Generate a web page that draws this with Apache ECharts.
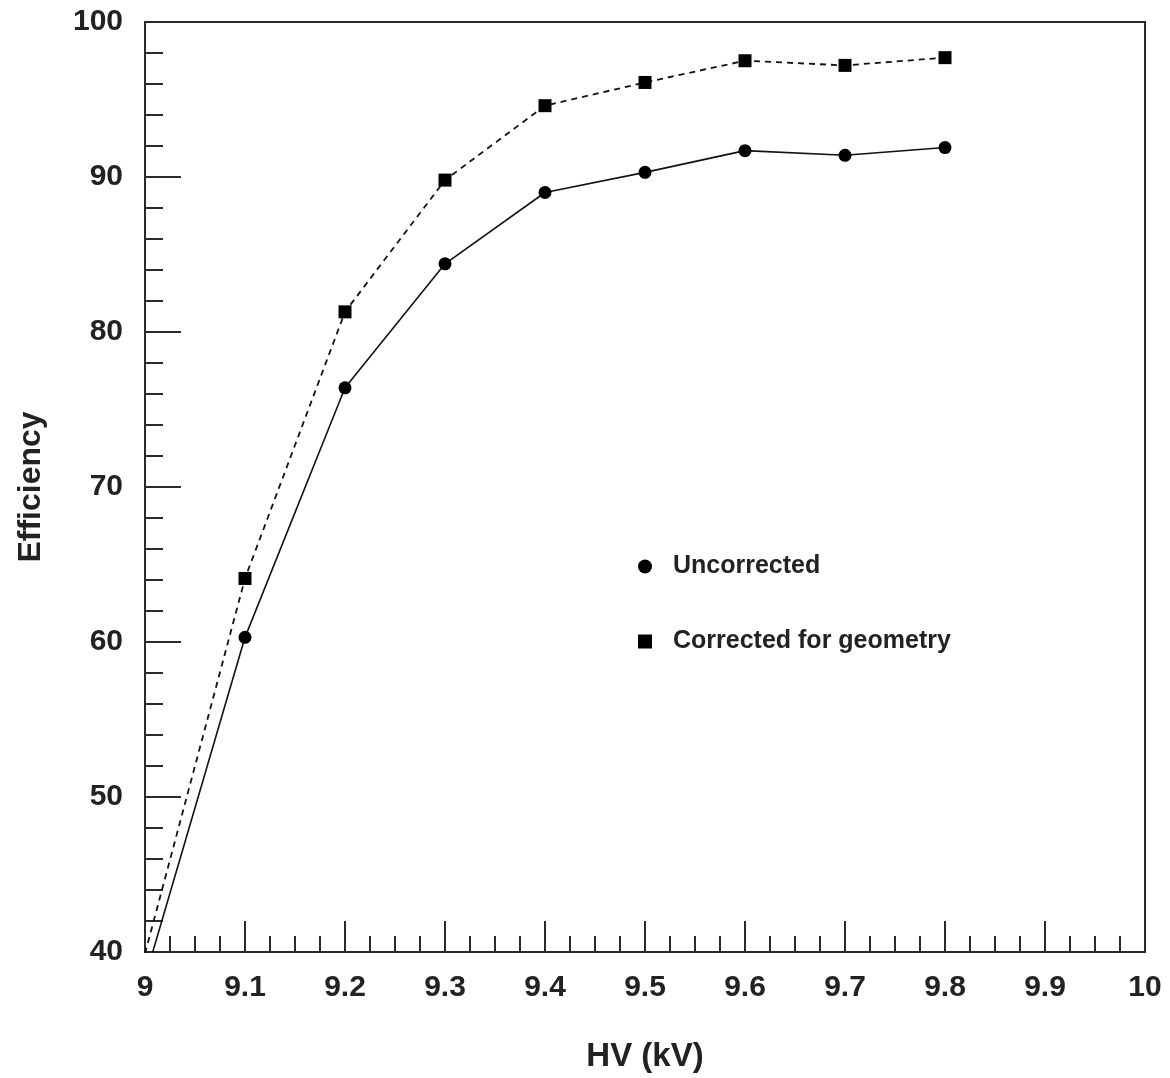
<!DOCTYPE html>
<html><head><meta charset="utf-8">
<script src="https://cdn.jsdelivr.net/npm/echarts@6/dist/echarts.min.js"></script>
<style>html,body{margin:0;padding:0;background:#fff}#c{width:1170px;height:1078px}</style>
</head><body><div id="c"></div>
<script>
const hv = [9.0, 9.1, 9.2, 9.3, 9.4, 9.5, 9.6, 9.7, 9.8];
const uncorrected = [38.3, 60.3, 76.4, 84.4, 89.0, 90.3, 91.7, 91.4, 91.9];
const corrected = [39.9, 64.1, 81.3, 89.8, 94.6, 96.1, 97.5, 97.2, 97.7];
const seriesNames = ['Uncorrected', 'Corrected for geometry'];

const FONT = "'Liberation Sans', Arial, sans-serif";
const chart = echarts.init(document.getElementById('c'));
const pairs = (ys) => hv.map((x, i) => [x, ys[i]]);
chart.setOption({
  animation: false,
  backgroundColor: '#fff',
  grid: { left: 145, right: 25, top: 22, bottom: 124, show: true, borderColor: '#2a2a2a', borderWidth: 2, backgroundColor: 'transparent' },
  legend: {
    orient: 'vertical', left: 633, top: 549, itemGap: 50, itemWidth: 14, itemHeight: 14,
    textStyle: { fontFamily: FONT, fontWeight: 'bold', fontSize: 25, color: '#222', padding: [0,0,0,16] },
    data: [{ name: seriesNames[0], icon: 'circle' }, { name: seriesNames[1], icon: 'rect' }]
  },
  xAxis: {
    type: 'value', min: 9, max: 10, interval: 0.1,
    axisLine: { lineStyle: { color: '#2a2a2a', width: 2 } },
    axisTick: { inside: true, length: 31, lineStyle: { color: '#2a2a2a', width: 2 } },
    minorTick: { show: true, splitNumber: 4, length: 16, lineStyle: { color: '#2a2a2a', width: 2 } },
    splitLine: { show: false },
    axisLabel: { fontFamily: FONT, fontWeight: 'bold', fontSize: 30, color: '#222', margin: 21,
      formatter: v => (Math.round(v * 10) / 10).toString() },
    name: 'HV (kV)', nameLocation: 'middle', nameGap: 88,
    nameTextStyle: { fontFamily: FONT, fontWeight: 'bold', fontSize: 33, color: '#222' }
  },
  yAxis: {
    type: 'value', min: 40, max: 100, interval: 10,
    axisLine: { lineStyle: { color: '#2a2a2a', width: 2 } },
    axisTick: { inside: true, length: 36, lineStyle: { color: '#2a2a2a', width: 2 } },
    minorTick: { show: true, splitNumber: 5, length: 18, lineStyle: { color: '#2a2a2a', width: 2 } },
    splitLine: { show: false },
    axisLabel: { fontFamily: FONT, fontWeight: 'bold', fontSize: 30, color: '#222', margin: 22 },
    name: 'Efficiency', nameLocation: 'middle', nameGap: 98, nameRotate: 90,
    nameTextStyle: { fontFamily: FONT, fontWeight: 'bold', fontSize: 32, color: '#222' }
  },
  series: [
    { name: seriesNames[0], type: 'line', data: pairs(uncorrected), clip: true,
      symbol: 'circle', symbolSize: 13, itemStyle: { color: '#000' },
      lineStyle: { color: '#111', width: 1.6, type: 'solid' } },
    { name: seriesNames[1], type: 'line', data: pairs(corrected), clip: true,
      symbol: 'rect', symbolSize: 13, itemStyle: { color: '#000' },
      lineStyle: { color: '#111', width: 1.8, type: [6, 5] } }
  ]
});
</script></body></html>
